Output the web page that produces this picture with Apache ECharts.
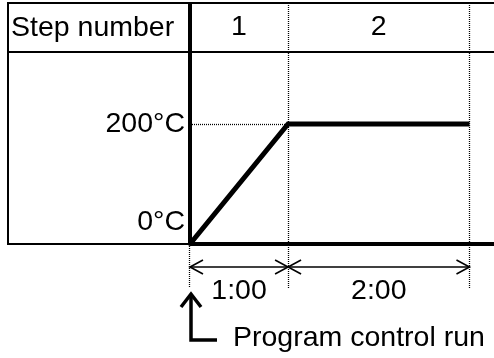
<!DOCTYPE html>
<html>
<head>
<meta charset="utf-8">
<script src="https://cdn.jsdelivr.net/npm/echarts@6/dist/echarts.min.js"></script>
<style>
  html, body { margin: 0; padding: 0; background: #fff; }
  #chart { width: 494px; height: 358px; }
</style>
</head>
<body>
<div id="chart"></div>
<script>
// temperature profile (time in minutes, °C) - as drawn, step 2 is shorter than true scale
const profileTime = [0, 60, 171];
const profileTemp = [0, 200, 200];
// steps
const stepNumbers = ["1", "2"];
const stepStart = [0, 60];
const stepEnd = [60, 171];
const stepDuration = ["1:00", "2:00"];
const tempTicks = [0, 200];
const runStart = [0];
const headerTitle = "Step number";
const runLabel = "Program control run";

const FAMILY = '"Liberation Sans", Arial, sans-serif';
const FSIZE = 28.5;
const FONT = FSIZE + "px " + FAMILY;
const INK = "#000";
const DOTS = [1, 1];

// snap a 1px line to the pixel grid so the dots stay dark
const crisp = (v) => Math.round(v) + 0.5;

// dotted step boundary, dimension arrow, step number and duration
function renderStep(params, api) {
  const i = params.dataIndex;
  const a = api.coord([api.value(0), 0]);
  const b = api.coord([api.value(1), 0]);
  const top = api.coord([api.value(1), 400])[1];
  const dimY = a[1] + 23;
  const hw = 13, hh = 7;
  const thin = { stroke: INK, lineWidth: 1.6, fill: null };
  const bx = crisp(b[0]);
  return {
    type: "group",
    children: [
      {
        type: "line",
        shape: { x1: bx, y1: top - 1, x2: bx, y2: a[1] + 44 },
        style: { stroke: INK, lineWidth: 1.3, lineDash: DOTS },
      },
      { type: "line", shape: { x1: a[0], y1: dimY, x2: b[0], y2: dimY }, style: thin },
      {
        type: "polyline",
        shape: { points: [[a[0] + hw, dimY - hh], [a[0], dimY], [a[0] + hw, dimY + hh]] },
        style: thin,
      },
      {
        type: "polyline",
        shape: { points: [[b[0] - hw, dimY - hh], [b[0], dimY], [b[0] - hw, dimY + hh]] },
        style: thin,
      },
      {
        type: "text",
        style: {
          text: stepNumbers[i], x: (a[0] + b[0]) / 2, y: top + 23,
          align: "center", verticalAlign: "middle", font: FONT, fill: INK,
        },
      },
      {
        type: "text",
        style: {
          text: stepDuration[i], x: (a[0] + b[0]) / 2, y: a[1] + 47,
          align: "center", verticalAlign: "middle", font: FONT, fill: INK,
        },
      },
    ],
  };
}

// start marker below the axis
function renderRun(params, api) {
  const p = api.coord([api.value(0), 0]);
  const thick = { stroke: INK, lineWidth: 3.5, fill: null, lineJoin: "miter" };
  const px = crisp(p[0]) - 1;
  return {
    type: "group",
    children: [
      {
        type: "line",
        shape: { x1: px, y1: p[1], x2: px, y2: p[1] + 44 },
        style: { stroke: INK, lineWidth: 1.3, lineDash: DOTS },
      },
      {
        type: "polyline",
        shape: { points: [[p[0] + 1, p[1] + 50], [p[0] + 1, p[1] + 96], [p[0] + 27, p[1] + 96]] },
        style: thick,
      },
      {
        type: "polyline",
        shape: { points: [[p[0] - 9, p[1] + 63], [p[0] + 1, p[1] + 50], [p[0] + 11, p[1] + 63]] },
        style: thick,
      },
      {
        type: "text",
        style: {
          text: runLabel, x: p[0] + 43, y: p[1] + 94,
          align: "left", verticalAlign: "middle", font: FONT, fill: INK,
        },
      },
    ],
  };
}

const chart = echarts.init(document.getElementById("chart"));
chart.setOption({
  animation: false,
  backgroundColor: "#fff",
  grid: { left: 190, right: 0, top: 4, bottom: 6 },
  xAxis: {
    type: "value",
    min: 0,
    max: 186,
    axisLine: { show: true, onZero: true, lineStyle: { color: INK, width: 4 } },
    axisTick: { show: false },
    axisLabel: { show: false },
    splitLine: { show: false },
  },
  yAxis: {
    type: "value",
    min: -180,
    max: 400,
    axisLine: { show: false },
    axisTick: { show: false },
    splitLine: { show: false },
    axisLabel: {
      customValues: tempTicks,
      margin: 5,
      color: INK,
      fontSize: FSIZE,
      fontFamily: FAMILY,
      formatter: (v) => (v === 0 ? "{lo|0°C}" : v + "°C"),
      rich: {
        lo: { padding: [0, 0, 44, 0], fontSize: FSIZE, fontFamily: FAMILY, color: INK },
      },
    },
  },
  graphic: [
    { type: "line", shape: { x1: 7, y1: 3, x2: 494, y2: 3 }, style: { stroke: INK, lineWidth: 2 } },
    { type: "line", shape: { x1: 7, y1: 52, x2: 494, y2: 52 }, style: { stroke: INK, lineWidth: 2 } },
    { type: "line", shape: { x1: 8, y1: 2, x2: 8, y2: 245 }, style: { stroke: INK, lineWidth: 2 } },
    { type: "line", shape: { x1: 7, y1: 244, x2: 190, y2: 244 }, style: { stroke: INK, lineWidth: 2 } },
    {
      type: "text",
      style: { text: headerTitle, x: 11, y: 28, verticalAlign: "middle", font: FONT, fill: INK },
    },
  ],
  series: [
    {
      type: "custom",
      name: "steps",
      renderItem: renderStep,
      data: stepStart.map((s, i) => [s, stepEnd[i]]),
      encode: { x: [0, 1] },
      silent: true,
      z: 1,
    },
    {
      type: "custom",
      name: "run",
      renderItem: renderRun,
      data: runStart.map((t) => [t]),
      encode: { x: 0 },
      silent: true,
      z: 1,
    },
    {
      type: "line",
      name: "temperature",
      data: profileTime.map((t, i) => [t, profileTemp[i]]),
      showSymbol: false,
      lineStyle: { color: INK, width: 5, join: "miter" },
      z: 3,
      markLine: {
        silent: true,
        symbol: "none",
        label: { show: false },
        data: [
          [
            { coord: [0, 0], lineStyle: { color: INK, width: 4, type: "solid" } },
            { coord: [0, 400] },
          ],
          [
            { coord: [0, profileTemp[1]], lineStyle: { color: INK, width: 1.3, type: DOTS } },
            { coord: [profileTime[1], profileTemp[1]] },
          ],
        ],
      },
    },
  ],
});
</script>
</body>
</html>
